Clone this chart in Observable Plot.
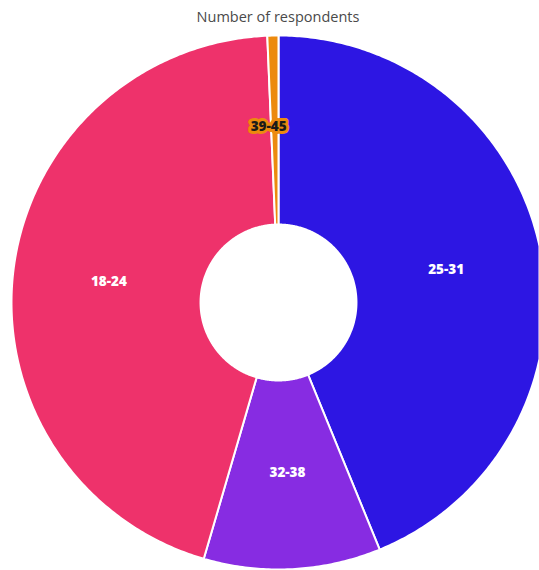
<!DOCTYPE html>
<html>
<head>
<meta charset="utf-8">
<script src="https://cdn.jsdelivr.net/npm/d3@7"></script>
<script src="https://cdn.jsdelivr.net/npm/@observablehq/plot@0.6"></script>
<style>
  html, body { margin: 0; padding: 0; background: #fff; overflow: hidden; }
  #wrap { position: relative; width: 539px; height: 570px; }
  #title { position: absolute; top: 7px; left: 0; width: 556px; text-align: center;
           font-family: "Open Sans", sans-serif; font-size: 14.5px; color: #4a4a4a; z-index: 2; }
  #chart { position: absolute; top: 0; left: 0; }
</style>
</head>
<body>
<div id="wrap">
  <div id="title">Number of respondents</div>
  <div id="chart"></div>
</div>
<script>
// Data (order as drawn clockwise from 12 o'clock)
const categories = ["25-31", "32-38", "18-24", "39-45"];
const values = [131, 32, 134, 2];
const colors = ["#2D16E3", "#872CE2", "#EE326B", "#EC8A0E"];

const innerR = 0.292, outerR = 1;
const pie = d3.pie().sort(null).value(d => d.value)(categories.map((c, i) => ({category: c, value: values[i]})));

function pt(r, a) { return [r * Math.sin(a), -r * Math.cos(a)]; }

const features = pie.map(p => {
  const ring = [];
  const n = Math.max(4, Math.ceil((p.endAngle - p.startAngle) / 0.01));
  for (let k = 0; k <= n; k++) ring.push(pt(outerR, p.startAngle + (p.endAngle - p.startAngle) * k / n));
  for (let k = n; k >= 0; k--) ring.push(pt(innerR, p.startAngle + (p.endAngle - p.startAngle) * k / n));
  ring.push(ring[0]);
  return {type: "Feature", properties: {category: p.data.category}, geometry: {type: "Polygon", coordinates: [ring]}};
});

const labels = pie.map((p, i) => {
  const mid = (p.startAngle + p.endAngle) / 2;
  const r = i === 3 ? 0.66 : 0.64;
  const [x, y] = pt(r, i === 3 ? mid - 0.035 : mid);
  return {category: p.data.category, x, y, i};
});

// Domain box so that the unit circle maps to center (278,302), radius 267
const k = 267, cx = 278, cy = 302, W = 539, H = 570;
const domain = {type: "MultiPoint", coordinates: [[(0 - cx) / k, (0 - cy) / k], [(W - cx) / k, (H - cy) / k]]};

const chart = Plot.plot({
  width: W,
  height: H,
  margin: 0,
  projection: {type: "identity", domain},
  color: {domain: categories, range: colors},
  marks: [
    Plot.geo(features, {fill: d => d.properties.category, stroke: "white", strokeWidth: 2}),
    Plot.text(labels.filter(d => d.i < 3), {
      x: "x", y: "y", text: "category", fill: "white",
      fontSize: 13.5, fontWeight: 800, fontFamily: "Open Sans, sans-serif"
    }),
    Plot.text(labels.filter(d => d.i === 3), {
      x: "x", y: "y", text: "category", fill: "#1a1a1a",
      stroke: colors[3], strokeWidth: 6, strokeLinejoin: "round",
      fontSize: 13.5, fontWeight: 800, fontFamily: "Open Sans, sans-serif"
    })
  ]
});
document.getElementById("chart").appendChild(chart);
</script>
</body>
</html>
